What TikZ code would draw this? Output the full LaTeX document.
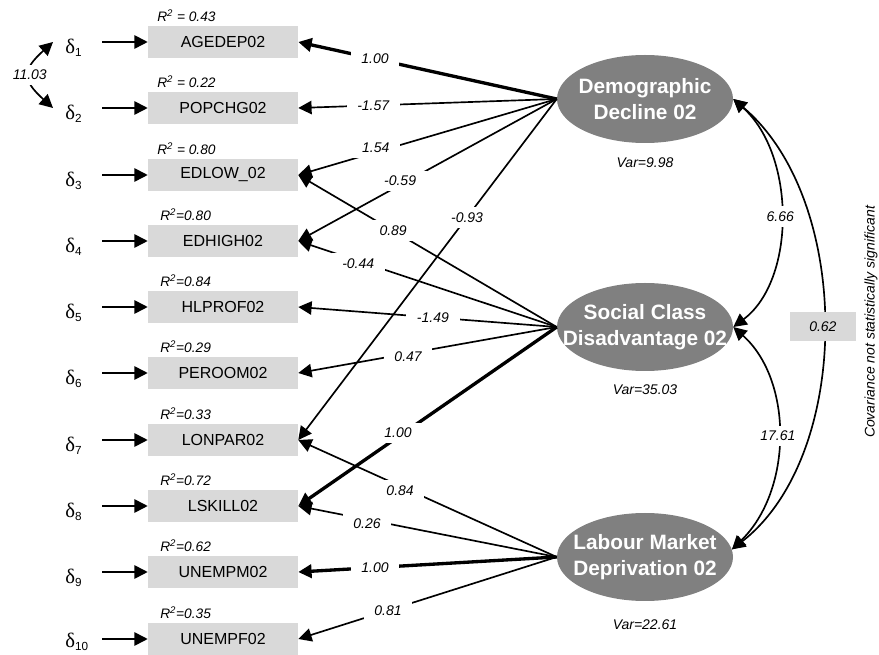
\documentclass[tikz,border=0pt]{standalone}
\usepackage{fontspec}
\setmainfont{Liberation Sans}
\newfontfamily\greekfont{Liberation Serif}
\usetikzlibrary{shapes.geometric,arrows.meta}
\definecolor{boxgray}{RGB}{217,217,217}
\definecolor{latgray}{RGB}{128,128,128}
\newcommand\dsub[1]{\raisebox{-2pt}{\normalfont\fontsize{8.8}{10}\selectfont #1}}
\begin{document}
\begin{tikzpicture}[x=0.75pt,y=-0.75pt,
  obs/.style={fill=boxgray, minimum width=112.5pt, minimum height=24pt, inner sep=0pt, font=\fontsize{12}{13}\selectfont},
  lat/.style={ellipse, fill=latgray, minimum width=132pt, minimum height=66pt, inner sep=0pt},
  lattext/.style={inner sep=0pt, text=white, align=center, font=\fontsize{15.6}{19.5}\selectfont\bfseries},
  rsq/.style={anchor=west, inner sep=0pt, font=\fontsize{10.3}{12}\selectfont\itshape},
  lbl/.style={fill=white, inner xsep=8pt, inner ysep=4pt, font=\fontsize{10.5}{12}\selectfont\itshape},
  lblc/.style={fill=white, inner xsep=1pt, inner ysep=4pt, font=\fontsize{10.5}{12}\selectfont\itshape},
  varl/.style={inner sep=0pt, font=\fontsize{10.5}{12}\selectfont\itshape},
  errn/.style={anchor=base west, inner sep=0pt, text width=20pt, align=left, font=\greekfont\fontsize{15.5}{18}\selectfont},
  arr/.style={-{Triangle[length=10pt,width=10pt]}},
  arrboth/.style={{Triangle[length=10pt,width=10pt]}-{Triangle[length=10pt,width=10pt]}},
  ln/.style={line width=1.25pt},
  thk/.style={line width=2.5pt},
  covbox/.style={fill=boxgray, minimum width=50pt, minimum height=22pt, inner sep=0pt, font=\fontsize{10.5}{12}\selectfont\itshape},
]
\useasboundingbox (0,0) rectangle (879,655);

% observed variables
\node[obs] (o1) at (223,42) {AGEDEP02};
\node[obs] (o2) at (223,108) {POPCHG02};
\node[obs] (o3) at (223,175) {EDLOW\_02};
\node[obs] (o4) at (223,241) {EDHIGH02};
\node[obs] (o5) at (223,307) {HLPROF02};
\node[obs] (o6) at (223,373) {PEROOM02};
\node[obs] (o7) at (223,440) {LONPAR02};
\node[obs] (o8) at (223,506) {LSKILL02};
\node[obs] (o9) at (223,572) {UNEMPM02};
\node[obs] (o10) at (223,639) {UNEMPF02};

% R squared
\node[rsq] (r1) at (157,16) {R\textsuperscript{2} = 0.43};
\node[rsq] (r2) at (157,82) {R\textsuperscript{2} = 0.22};
\node[rsq] (r3) at (157,149) {R\textsuperscript{2} = 0.80};
\node[rsq] (r4) at (160,215) {R\textsuperscript{2}=0.80};
\node[rsq] (r5) at (160,281) {R\textsuperscript{2}=0.84};
\node[rsq] (r6) at (160,347) {R\textsuperscript{2}=0.29};
\node[rsq] (r7) at (160,414) {R\textsuperscript{2}=0.33};
\node[rsq] (r8) at (160,480) {R\textsuperscript{2}=0.72};
\node[rsq] (r9) at (160,546) {R\textsuperscript{2}=0.62};
\node[rsq] (r10) at (160,613) {R\textsuperscript{2}=0.35};

% errors
\node[errn] (e1) at (65,54) {δ\dsub{1}};
\node[errn] (e2) at (65,120) {δ\dsub{2}};
\node[errn] (e3) at (65,187) {δ\dsub{3}};
\node[errn] (e4) at (65,253) {δ\dsub{4}};
\node[errn] (e5) at (65,319) {δ\dsub{5}};
\node[errn] (e6) at (65,385) {δ\dsub{6}};
\node[errn] (e7) at (65,452) {δ\dsub{7}};
\node[errn] (e8) at (65,518) {δ\dsub{8}};
\node[errn] (e9) at (65,584) {δ\dsub{9}};
\node[errn] (e10) at (65,648) {δ\dsub{10}};

\foreach \i in {1,...,10}{
  \draw[ln,arr,shorten <=7.5pt] (e\i.east |- o\i.west) -- (o\i.west);
}

% error covariance
\coordinate (d1c) at (53,42);
\coordinate (d2c) at (53,108);
\draw[ln,arrboth] (d1c) .. controls (22,70) and (22,80) .. (d2c)
  node[lblc, pos=0.5, inner xsep=2pt] {11.03};

% latent variables
\node[lat] (dd) at (645,99) {};
\node[lat] (sc) at (645,327) {};
\node[lat] (lm) at (645,557) {};
\node[lattext] (ddt) at (dd) {Demographic\\Decline 02};
\node[lattext] (sct) at (sc) {Social Class\\Disadvantage 02};
\node[lattext] (lmt) at (lm) {Labour Market\\Deprivation 02};

\node[varl] (v1) at (645,163) {Var=9.98};
\node[varl] (v2) at (645,390) {Var=35.03};
\node[varl] (v3) at (645,625) {Var=22.61};

% loadings: Demographic Decline
\draw[thk,arr] (dd.west) -- node[lbl,pos=0.703] {1.00} (o1.east);
\draw[ln,arr] (dd.west) -- node[lbl,pos=0.71] {-1.57} (o2.east);
\draw[ln,arr] (dd.west) -- node[lbl,pos=0.70,yshift=3.5pt] {1.54} (o3.east);
\draw[ln,arr] (dd.west) -- node[lbl,pos=0.606,yshift=3pt] {-0.59} (o4.east);
\draw[ln,arr] (dd.west) -- node[lbl,pos=0.347] {-0.93} (o7.east);

% loadings: Social Class
\draw[ln,arr] (sc.west) -- node[lbl,pos=0.633] {0.89} (o3.east);
\draw[ln,arr] (sc.west) -- node[lbl,pos=0.768,yshift=-2pt] {-0.44} (o4.east);
\draw[ln,arr] (sc.west) -- node[lbl,pos=0.479] {-1.49} (o5.east);
\draw[ln,arr] (sc.west) -- node[lbl,pos=0.575,yshift=-2.5pt] {0.47} (o6.east);
\draw[thk,arr] (sc.west) -- node[lbl,pos=0.614,yshift=3pt] {1.00} (o8.east);

% loadings: Labour Market
\draw[ln,arr] (lm.west) -- node[lbl,pos=0.606,yshift=-3.5pt] {0.84} (o7.east);
\draw[ln,arr] (lm.west) -- node[lbl,pos=0.734,yshift=-3pt] {0.26} (o8.east);
\draw[thk,arr] (lm.west) -- node[lbl,pos=0.703] {1.00} (o9.east);
\draw[ln,arr] (lm.west) -- node[lbl,pos=0.653] {0.81} (o10.east);

% factor covariances
\draw[ln,arrboth] (dd.east) .. controls (796,155) and (796,280) .. (sc.east)
  node[lblc,pos=0.5] {6.66};
\draw[ln,arrboth] (sc.east) .. controls (793,380) and (793,490) .. (lm.5)
  node[lblc,pos=0.5] {17.61};
\draw[ln,arrboth] (dd.east) .. controls (853,200) and (853,455) .. (lm.5)
  node[covbox,pos=0.5] {0.62};

\node[rotate=90, inner sep=0pt, font=\fontsize{10.5}{12}\selectfont\itshape] (note) at (871,322) {Covariance not statistically significant};
\end{tikzpicture}
\end{document}
